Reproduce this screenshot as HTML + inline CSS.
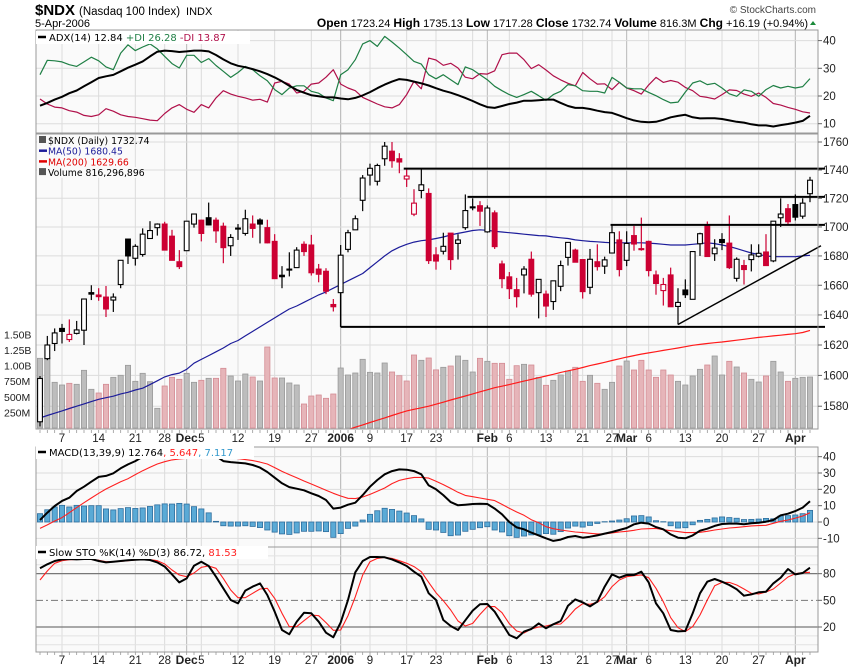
<!DOCTYPE html>
<html><head><meta charset="utf-8"><title>$NDX StockCharts</title>
<style>
html,body{margin:0;padding:0;background:#fff;}
svg{display:block;font-family:"Liberation Sans",Arial,sans-serif;}
.leg{font-family:"DejaVu Sans",Verdana,sans-serif;}
</style></head>
<body>
<svg id="chart" xmlns="http://www.w3.org/2000/svg" width="850" height="668" viewBox="0 0 850 668">
<rect width="850" height="668" fill="#fff"/>
<g>
<text x="35" y="15"><tspan font-size="15" font-weight="bold">$NDX</tspan><tspan dx="4" font-size="11.5">(Nasdaq 100 Index)</tspan><tspan dx="6" font-size="11">INDX</tspan></text>
<text x="35" y="27" font-size="11">5-Apr-2006</text>
<text x="816" y="13" font-size="10" fill="#444" text-anchor="end">© StockCharts.com</text>
<text x="808" y="27" font-size="11" text-anchor="end"><tspan font-weight="bold" font-size="12">Open</tspan> 1723.24 <tspan font-weight="bold" font-size="12">High</tspan> 1735.13 <tspan font-weight="bold" font-size="12">Low</tspan> 1717.28 <tspan font-weight="bold" font-size="12">Close</tspan> 1732.74 <tspan font-weight="bold" font-size="12">Volume</tspan> 816.3M <tspan font-weight="bold" font-size="12">Chg</tspan> +16.19 (+0.94%)</text>
<path d="M810 25 L816 25 L813 21 Z" fill="#1a8a3a"/>
</g>
<g id="panels"></g>
</svg>
<script>
// ---------- data ----------
const firstIndex = -3;
const openP = [1570,1611,1621,1631,1623.6,1627.7,1629.8,1655,1653.4,1652,1650,1660.5,1691.6,1678.4,1681,1692,1699.5,1702,1693.6,1676,1683.6,1702,1704.7,1706.4,1704.7,1700.5,1687,1698.5,1695.5,1702,1704.8,1699.5,1690,1666.8,1671,1672,1688,1687.5,1671,1669.5,1647,1655,1684.5,1698,1718.6,1736.4,1732,1748,1753.4,1748,1733.6,1708.9,1725.5,1723.4,1680.7,1683.2,1695.7,1688.6,1699.5,1714,1714.8,1696.6,1709.8,1674.5,1665.7,1657,1667,1677.7,1655,1654,1649,1659.3,1679,1684,1677.5,1658.6,1676,1673,1682,1691,1677,1694,1685,1690,1667,1656.4,1667,1645.7,1656.8,1650.5,1688.4,1701,1681.5,1691.3,1688.8,1664.7,1673.4,1677.5,1679.8,1682.7,1676.6,1706.4,1712.7,1715.6,1707.5,1723.24];
const highP = [1599.6,1626,1631,1634,1637,1636,1651,1660,1658,1659.5,1654.5,1677,1691.6,1688,1699,1704,1702.5,1703.6,1698,1684,1704,1709,1705,1717,1706.5,1703,1695,1702,1712,1708,1706,1705,1695,1673,1682.5,1686,1690,1694.5,1674.5,1671.6,1650.7,1687.5,1698,1708,1736.4,1744.5,1744.5,1760,1760,1752,1741,1726.4,1741,1727,1686,1696,1695.7,1695,1722.7,1720,1718,1715,1711.5,1676.8,1669,1665,1673,1683,1664,1656.4,1663,1676.8,1689.3,1685,1677.5,1684.8,1688,1679.5,1702,1697,1697,1700.7,1706.5,1690.5,1670,1665,1672,1658,1664,1683,1696,1703.8,1691.5,1695.7,1708,1679,1677.3,1688,1688,1695,1704,1720,1716,1722.7,1720,1735.13];
const lowP = [1567,1610,1616,1621,1622,1627,1620,1650,1649.5,1638.6,1642,1658,1674.5,1673.4,1679.5,1692,1694,1684,1677,1671,1683.6,1699.5,1690,1701,1689,1675,1680,1691,1694,1692.5,1688.6,1688.6,1664.5,1658,1666,1672,1680,1666.6,1662,1654,1642.3,1655,1682.5,1698,1711,1729,1729,1743,1741.6,1737.7,1728,1707.5,1720,1674.5,1670.6,1681,1670.5,1677.5,1698,1711.6,1700.7,1696,1684.8,1658,1650.7,1645,1654.5,1652.3,1637.7,1638.6,1643.4,1656,1673.4,1675.7,1651,1654,1670,1667.7,1682,1666,1673,1683.6,1683.6,1666,1653.6,1646.3,1645.5,1633.6,1651.4,1650.5,1680,1679.6,1676.6,1684,1671,1662.5,1660.5,1669.4,1679,1673.4,1675.7,1700,1702,1704.5,1705.7,1717.28];
const closeP = [1598,1620,1628,1629,1627,1630,1650.7,1654,1652.3,1644,1652,1677,1680,1686.6,1695,1697.5,1702,1684,1677,1672.7,1704,1709,1695.5,1701.4,1697.3,1685.7,1692.7,1699.2,1705.7,1699,1702,1689,1664.5,1665.8,1670.6,1684,1683,1668.5,1667.5,1656,1645.5,1680.5,1696,1705.7,1734.3,1741.2,1743.2,1757,1746.6,1745.7,1735.7,1716.6,1729.5,1676.8,1676.5,1686.6,1677.5,1691,1711.4,1713.4,1711,1713.2,1686.4,1664.5,1657.7,1652.3,1671,1654,1664,1646,1663,1673.4,1689.3,1675.7,1655.7,1677.7,1672.7,1677.3,1696,1670.7,1688.6,1688.2,1684.3,1670,1661.2,1660.5,1645.5,1648.4,1653.6,1683,1695.3,1679.6,1685.4,1689.2,1672,1677.7,1670.7,1680.7,1681.8,1673.4,1704,1709,1703.6,1706.8,1716.6,1732.74];
const volumeM = [1115,1125,731,688,715,699,923,619,560,699,811,843,1003,747,875,741,315,672,811,779,875,731,763,795,795,955,832,752,864,816,752,1296,800,800,720,688,384,512,528,475,544,960,848,880,1099,891,880,1040,896,837,752,1168,1083,1120,930,971,992,1152,1083,896,1115,1067,1035,1035,779,997,1019,1008,811,683,763,848,912,971,747,843,715,619,731,992,1072,928,1083,928,811,928,848,747,688,832,939,1008,1152,848,1067,976,880,779,736,832,1067,896,747,795,811,816];
const ma50 = [1572.5,1574,1575.5,1577,1578.5,1580,1581.5,1583,1584.5,1585.5,1586.5,1588,1589,1590.5,1591.7,1594,1596.5,1599,1600.5,1601.5,1604,1608,1610.5,1613,1615.5,1618,1621,1623,1626,1629,1632,1635,1638,1641,1644,1646,1648.5,1651,1653.5,1655.5,1658,1660.5,1663,1665.5,1668,1672,1676,1680,1683.5,1686,1688,1689.5,1690.5,1691,1692,1693,1694.5,1695.5,1696.5,1697.5,1698,1697.7,1697,1696.5,1696,1695.5,1695,1694.5,1694,1693.8,1693,1692.5,1692,1691,1690.5,1690,1689.7,1689.3,1689,1689,1689,1689,1689,1688.8,1688.5,1688,1687.5,1687.5,1687.5,1688,1688.5,1689,1688.5,1687.5,1686.5,1685,1683.5,1682,1681,1680,1679.5,1679.5,1679.5,1679.5,1680,1680.45];
const ma200Start = 38;
const ma200 = [1563.5,1565,1566.5,1568,1569.5,1571,1572.5,1574,1575.5,1577,1578,1579,1580,1581.3,1582.6,1584,1585.3,1586.6,1588,1589.3,1590.6,1592,1593,1594,1595.2,1596.3,1597.4,1598.5,1599.6,1600.7,1602,1603,1604,1605.2,1606.4,1607.5,1608.6,1609.8,1610.9,1612,1613,1614,1614.8,1615.6,1616.4,1617.2,1618,1618.9,1619.8,1620.4,1621,1621.5,1622,1622.6,1623.2,1623.8,1624.4,1625,1625.5,1626,1626.5,1627,1627.5,1628.3,1629.66];
const adx = [16.5,17.5,18.7,19.7,21,22,23.5,25,26.5,27.1,27.6,28.9,30.2,31.3,32.5,34.3,36,36.4,36.2,35.9,36.1,36.4,36.4,36.1,34.8,33.2,31.8,30.9,30.4,29.7,28.9,27.9,26.7,25.3,23.7,22.2,21.2,20.3,19.9,19.5,19.5,19.1,18.8,19.3,20.2,21.4,22.8,24.1,25.2,26.1,25.8,25.2,24.6,23.8,22.8,21.9,21.2,20.3,19.3,18.2,17,16,15.7,16.4,17.1,17.6,18.3,18.3,18.5,18.7,18.7,17.5,16.4,15.7,15.7,15.3,14.7,14.2,13.9,13,12,11.2,10.7,10.5,10.7,11.4,12.3,12.8,13.2,12.3,11.9,12,12,11.7,11.2,10.7,10.4,9.8,9.4,9.4,9,9.5,9.9,10.4,11,12.84];
const plusDI = [27.7,32.9,32.7,32.3,31.3,30.7,32.3,34,32.7,30.5,29.5,35.5,38.5,36.4,37.7,38.8,37,34.3,31.7,30.1,34.7,34.7,32.1,33.5,31,28.9,26.7,28.5,30.7,29.5,27.3,25.5,22.3,20.5,22.9,23.7,23.7,21.7,21,19.3,18.3,27.7,29.5,33.1,38.8,40,37.9,41.5,39.5,37.3,34.9,32.5,31.5,27.7,26.2,27.7,25.9,24.1,30.5,29.5,27.7,25.9,23.5,21.9,20.5,19.5,20.5,21.7,20.1,18.4,20.5,21.7,24.1,23.7,21.9,21.7,21.7,21.1,26.7,25,22.9,22.6,22.6,21.3,20.1,18.7,17.5,17.8,21.4,24.7,25.5,24.1,24.6,22.9,20.8,19.9,22.2,21.7,19.9,22.3,23.8,22.9,23.5,22.9,23.4,26.28];
const minusDI = [18.9,17.1,16,15.7,14.7,14.2,13,12.6,13.2,15.4,14.5,13.2,12.6,12.3,11.8,11.3,11.1,13.7,15.7,16.9,15.2,14.1,16.9,15.7,19.3,21.9,20.7,19.9,19.3,18.5,18.8,17.8,24.7,25.3,24.3,21.1,21.7,24.3,24.7,26.8,29.5,24.3,22.9,21.9,19.5,18.3,17.1,16.1,15.7,16.9,20.5,25.3,22.6,33.7,33,31.1,31.8,30.1,26.8,26.2,28.1,27.9,29.1,34.9,35.5,35.5,33.1,29.9,31.3,29.4,27.3,25.8,24.6,23.7,28.5,26.2,24.3,24.4,22.3,24.9,22.9,21.9,20.7,24,26.7,24.9,25.6,25,23.1,21.9,19.9,19.5,18.9,20.5,22.2,22,20.7,19.9,21.1,19.5,17.3,16.7,15.9,15.2,14.3,13.87];
const macd = [1.2,5.7,9.8,12.9,14.9,19,21.6,24.7,27.6,28.2,29.8,32.9,35.3,37.3,40,43,46,48,49,50,50,49,48,46,40.4,37.3,36.7,36.3,35.9,34.9,33.3,30.6,27.1,23.7,21.4,20.4,19.4,17.6,15.9,13.5,8.2,8.8,10.6,11.8,16.5,21.6,25.7,29.2,31.2,32.2,32,31.2,29.2,22.4,20,16.5,12.2,10.2,10.6,11,11.2,11,8.2,4.7,0,-3.3,-4.5,-6.5,-8.2,-10,-11.6,-10.8,-9.2,-8.6,-9.6,-9,-8.2,-7.1,-6.1,-4.9,-3.7,-1.4,-0.4,-1,-3.1,-4.5,-7.6,-9.6,-10,-8.2,-5.3,-4.1,-2.4,-1.2,-1,-1,-1.4,-0.8,-0.4,0.2,1.2,4.1,5.1,6.7,8.8,12.764];
const signal = [-3.9,-1.8,0.6,2.7,5.7,8.8,11.8,14.7,17.6,20.2,22.4,24.7,26.5,29,31.4,33.5,35.5,36.9,38,38.6,39,39.6,40,40.4,40,39.6,39.2,38.8,38.2,37.6,36.7,35.5,33.3,31,29,27.1,25.1,23.3,21.4,19.4,17.6,15.9,14.5,14.3,15.3,16.9,18.8,20.8,23.5,25.5,26.5,27.3,27.3,26.9,24.9,22.9,20.6,18.2,16.3,15.5,14.7,13.9,13.1,10.8,8.4,6.1,4.1,1.4,-0.4,-2.9,-4.1,-4.9,-5.5,-6.1,-6.5,-6.9,-7.3,-7.3,-6.7,-6.1,-5.7,-5.1,-4.3,-4.1,-3.9,-4.7,-5.3,-5.9,-6.5,-6.5,-6.3,-5.7,-4.9,-4.3,-3.7,-3.3,-2.9,-2.4,-2.2,-2,-0.8,0.4,1.2,2.4,3.7,5.647];
const stoK = [86,90.5,94.2,96,96.5,96,96.5,96.5,94.2,92.7,93.5,94.2,95,95.7,96,95.4,92.7,87.9,79.2,70.2,74.7,89,93.5,88.6,76.6,63.5,50.4,46.6,60.9,65.4,69.1,56,37.2,16.6,11.8,26,36.1,35.4,26,13.6,8.4,25.2,50.4,81.5,94.2,98.7,98.7,98.4,96,92.7,88.6,82.2,76.6,57.9,50.4,27.9,21.1,16.6,27.5,38.4,45.5,45.9,37.2,24.1,11,7.3,14.8,17.8,24.1,18.5,23,26.7,44,51.1,47.7,43.2,48.5,65.4,79.2,75.5,78.5,78.5,82.2,70.2,46.6,35.4,16.6,15.1,15.5,35.4,57.9,71,74,71,67.2,62.4,55.2,56.7,59,59.7,69.1,75.5,85.2,79.2,80.7,86.72];
const stoD = [72.9,83,91.6,94.6,95.7,96,96.5,96,95,93.5,93.5,93.9,94.6,95.4,95.7,95.7,94.6,90.9,84.1,78.5,76.6,80.7,87.1,88.6,86,74.7,61.6,53,53,57.9,62.7,63.5,52.2,35.4,20.4,20.4,27.1,33.5,32.7,24.9,16.3,16.6,32.7,54,78.5,93.5,97.2,98.4,97.2,94.6,91.6,87.9,82.2,70.2,58.6,49.6,39.1,26.7,21.1,24.1,34.2,42.9,42.9,36.1,23.7,15.5,13.3,17.8,20,21.1,23,23.4,30.9,40.2,46.2,45.5,47.7,54.1,65.4,72.9,76.6,77.7,78.5,75.5,63.5,48.5,30.5,19.2,14.8,20.4,33.5,50.4,66.5,70.2,70.2,67.2,62.7,57.9,57.1,59.4,62.7,69.5,76.2,80,81.1,81.53];
// annotation levels drawn on the chart
const levelPrices = [1741,1721,1701.4,1632];
const levelStartIdx = [46.6,55.3,74.8,38];
const trendIdx = [84,103.5];
const trendPrice = [1633.6,1687];
// axis ticks
const priceTicks = [1760,1740,1720,1700,1680,1660,1640,1620,1600,1580];
const volTicks = [1500,1250,1000,750,500,250];
const volTickLabels = ["1.50B","1.25B","1.00B","750M","500M","250M"];
const adxTicks = [40,30,20,10];
const macdTicks = [40,30,20,10,0,-10];
const stoTicks = [80,50,20];
const weekIdx = [0,5,10,14,19,24,29,34,38,42,47,51,56,61,66,71,75,80,85,90,95,100];
const monthIdx = [17,38,58,77,100];
const dateLabelIdx = [0,5,10,14,17,19,24,29,34,38,42,47,51,58,61,66,71,75,77,80,85,90,95,100];
const dateLabelText = ["7","14","21","28","Dec","5","12","19","27","2006","9","17","23","Feb","6","13","21","27","Mar","6","13","20","27","Apr"];

// ---------- scales ----------
const X0 = 36, X1 = 818;
const xOf = i => 62 + 7.3333 * i;
const yP = p => 198.3 + 2449 * Math.log(1720 / p);
const yV = v => 428 - v / 16;
const yA = v => 123.7 - (v - 10) * 2.77;
const yM = v => 522 - v * 1.633;
const yS = v => 627 - (v - 20) * 0.889;

const NS = "http://www.w3.org/2000/svg";
const root = document.getElementById('panels');
function mk(tag, attrs, parent) {
  const e = document.createElementNS(NS, tag);
  for (const k in attrs) e.setAttribute(k, attrs[k]);
  (parent || root).appendChild(e);
  return e;
}
const defs = mk('defs', {});
const panels = [
  {id:'adx', top:30, bot:133},
  {id:'price', top:134, bot:429},
  {id:'macd', top:447, bot:547},
  {id:'sto', top:547, bot:652}
];
panels.forEach(p => {
  const cp = mk('clipPath', {id:'clip-' + p.id}, defs);
  mk('rect', {x:X0, y:p.top, width:X1 - X0, height:p.bot - p.top}, cp);
});

function panelFrame(p, name) {
  const g = mk('g', {});
  
  
  mk('rect', {x:X0, y:p.top, width:X1 - X0, height:p.bot - p.top, fill:'#fafafa'}, g);
  weekIdx.forEach(i => mk('line', {x1:xOf(i), x2:xOf(i), y1:p.top, y2:p.bot, stroke:'#dcdcdc', 'stroke-width':1}, g));
  monthIdx.forEach(i => mk('line', {x1:xOf(i), x2:xOf(i), y1:p.top, y2:p.bot, stroke:'#b8b8b8', 'stroke-width':1}, g));
  return g;
}
function hgrid(g, ys, color) {
  ys.forEach(y => mk('line', {x1:X0, x2:X1, y1:y, y2:y, stroke:color || '#dcdcdc', 'stroke-width':1}, g));
}
function rightLabels(g, vals, fy, labels) {
  vals.forEach((v, k) => {
    const y = fy(v);
    mk('line', {x1:X1, x2:X1 + 4, y1:y, y2:y, stroke:'#666'}, g);
    const t = mk('text', {x:X1 + 5, y:y + 4, 'font-size':11.5, fill:'#222'}, g);
    t.textContent = labels ? labels[k] : String(v);
  });
}
function border(g, p) {
  mk('rect', {x:X0, y:p.top, width:X1 - X0, height:p.bot - p.top, fill:'none', stroke:'#999', 'stroke-width':1}, g);
}
function linePath(g, arr, start, fy, color, w, name) {
  let d = '';
  arr.forEach((v, k) => { if (v == null) return; d += (d ? 'L' : 'M') + xOf(start + k).toFixed(1) + ' ' + fy(v).toFixed(1); });
  const e = mk('path', {d:d, fill:'none', stroke:color, 'stroke-width':w, 'stroke-linejoin':'round'}, g);
  
  
  return e;
}
function legend(g, x, y, parts, w, name) {
  mk('rect', {x:x - 2, y:y - 10, width:w, height:13, fill:'#fff'}, g);
  mk('line', {x1:x, x2:x + 8, y1:y - 4, y2:y - 4, stroke:'#000', 'stroke-width':2.5}, g);
  const t = mk('text', {x:x + 11, y:y, 'font-size':10, class:'leg'}, g);
  
  
  parts.forEach(pt => { const s = mk('tspan', {fill:pt[1]}, t); s.textContent = pt[0]; });
}

// ---------- ADX panel ----------
{
  const p = panels[0];
  const g = panelFrame(p, 'adx-panel');
  hgrid(g, adxTicks.map(yA));
  const c = mk('g', {'clip-path':'url(#clip-adx)'}, g);
  linePath(c, minusDI, firstIndex, yA, '#b0104a', 1.2, 'minus-di-line');
  linePath(c, plusDI, firstIndex, yA, '#1f7f45', 1.2, 'plus-di-line');
  linePath(c, adx, firstIndex, yA, '#000', 2, 'adx-line');
  border(g, p);
  rightLabels(g, adxTicks, yA);
  legend(g, 38, 41, [['ADX(14) 12.84 ', '#000'], ['+DI 26.28 ', '#1f7f45'], ['-DI 13.87', '#b0104a']], 214, 'adx-legend');
}

// ---------- price panel ----------
{
  const p = panels[1];
  const g = panelFrame(p, 'price-panel');
  hgrid(g, priceTicks.map(yP));
  const c = mk('g', {'clip-path':'url(#clip-price)'}, g);
  volumeM.forEach((v, k) => {
    const i = firstIndex + k;
    const down = k > 0 && closeP[k] < closeP[k - 1];
    const r = mk('rect', {x:xOf(i) - 2.6, y:yV(v), width:5.2, height:428 - yV(v), fill:down ? '#e6b5b9' : '#bdbdbd', stroke:down ? '#d48d95' : '#9a9a9a', 'stroke-width':0.8}, c);
    
    
  });
  linePath(c, ma200, ma200Start, yP, '#ff1a1a', 1.2, 'ma200-line');
  linePath(c, ma50, firstIndex, yP, '#1c1c9a', 1.2, 'ma50-line');
  closeP.forEach((cl, k) => {
    const i = firstIndex + k;
    const op = openP[k];
    const col = (k > 0 && cl < closeP[k - 1]) ? '#cc0033' : '#000';
    const filled = cl < op;
    const x = xOf(i);
    const cg = mk('g', {}, c);
    
    
    mk('line', {x1:x, x2:x, y1:yP(highP[k]), y2:yP(lowP[k]), stroke:col, 'stroke-width':1.2}, cg);
    const yt = yP(Math.max(op, cl)), yb = yP(Math.min(op, cl));
    mk('rect', {x:x - 2.4, y:yt, width:4.8, height:Math.max(1, yb - yt), fill:filled ? col : '#fff', stroke:col, 'stroke-width':1.1}, cg);
  });
  const a = mk('g', {}, g);
  
  
  levelPrices.forEach((lp, k) => {
    mk('line', {x1:xOf(levelStartIdx[k]), x2:825, y1:yP(lp), y2:yP(lp), stroke:'#000', 'stroke-width':2}, a);
  });
  mk('line', {x1:xOf(levelStartIdx[3]), x2:xOf(levelStartIdx[3]), y1:yP(openP[38 - firstIndex]), y2:yP(levelPrices[3]), stroke:'#000', 'stroke-width':1.5}, a);
  mk('line', {x1:xOf(trendIdx[0]), x2:xOf(trendIdx[1]), y1:yP(trendPrice[0]), y2:yP(trendPrice[1]), stroke:'#000', 'stroke-width':1.5}, a);
  border(g, p);
  rightLabels(g, priceTicks, yP);
  volTicks.forEach((v, k) => {
    const t = mk('text', {x:4, y:yV(v) + 4, 'font-size':10.5, fill:'#222'}, g);
    t.textContent = volTickLabels[k];
    
    
  });
  const lg = mk('g', {}, g);
  
  
  const rows = [['$NDX (Daily) 1732.74', '#000'], ['MA(50) 1680.45', '#1c1c9a'], ['MA(200) 1629.66', '#e00000'], ['Volume 816,296,896', '#000']];
  rows.forEach((r, k) => {
    const y = 144 + k * 10.7;
    mk('rect', {x:37, y:y - 9, width:k == 3 ? 100 : (k == 0 ? 96 : 78), height:10.7, fill:'#fafafa'}, lg);
    if (k == 1 || k == 2) mk('line', {x1:39, x2:47, y1:y - 4, y2:y - 4, stroke:r[1], 'stroke-width':2.5}, lg);
    else mk('rect', {x:39, y:y - 8, width:7, height:7, fill:'#555'}, lg);
    const t = mk('text', {x:48, y:y, 'font-size':9.3, fill:r[1], class:'leg'}, lg);
    t.textContent = r[0];
  });
}

// ---------- date axis labels ----------
function dateAxis(y, name) {
  const g = mk('g', {});
  
  
  dateLabelIdx.forEach((i, k) => {
    const txt = dateLabelText[k];
    const bold = /[A-Za-z]/.test(txt) || txt == '2006';
    const t = mk('text', {x:xOf(i), y:y, 'font-size':bold ? 12 : 11.5, 'font-weight':bold ? 'bold' : 'normal', 'text-anchor':'middle', fill:'#222'}, g);
    t.textContent = txt;
  });
  for (let i = firstIndex; i <= 102; i++) mk('line', {x1:xOf(i), x2:xOf(i), y1:y - 12, y2:y - 9, stroke:'#999', 'stroke-width':0.8}, g);
}
dateAxis(442, 'date-axis-middle');

// ---------- MACD panel ----------
{
  const p = panels[2];
  const g = panelFrame(p, 'macd-panel');
  hgrid(g, macdTicks.map(yM));
  const c = mk('g', {'clip-path':'url(#clip-macd)'}, g);
  macd.forEach((m, k) => {
    const h = m - signal[k];
    const y0 = yM(0), y1 = yM(h);
    const r = mk('rect', {x:xOf(firstIndex + k) - 2.6, y:Math.min(y0, y1), width:5.2, height:Math.abs(y1 - y0), fill:'#5aaad6', stroke:'#2e6e9e', 'stroke-width':0.8}, c);
    
    
  });
  linePath(c, signal, firstIndex, yM, '#ff2020', 1.1, 'macd-signal-line');
  linePath(c, macd, firstIndex, yM, '#000', 2, 'macd-line');
  border(g, p);
  rightLabels(g, macdTicks, yM);
  legend(g, 38, 456, [['MACD(13,39,9) 12.764', '#000'], [', 5.647', '#ff2020'], [', 7.117', '#3399cc']], 218, 'macd-legend');
}

// ---------- Slow STO panel ----------
{
  const p = panels[3];
  const g = panelFrame(p, 'sto-panel');
  hgrid(g, [0, 10, 90, 100].map(yS), '#e2e2e2');
  mk('line', {x1:X0, x2:X1, y1:yS(80), y2:yS(80), stroke:'#777', 'stroke-width':1.2}, g);
  mk('line', {x1:X0, x2:X1, y1:yS(20), y2:yS(20), stroke:'#777', 'stroke-width':1.2}, g);
  mk('line', {x1:X0, x2:X1, y1:yS(50), y2:yS(50), stroke:'#777', 'stroke-width':1, 'stroke-dasharray':'7,3,2,3'}, g);
  const c = mk('g', {'clip-path':'url(#clip-sto)'}, g);
  linePath(c, stoD, firstIndex, yS, '#ff2020', 1.1, 'sto-d-line');
  linePath(c, stoK, firstIndex, yS, '#000', 2, 'sto-k-line');
  border(g, p);
  rightLabels(g, stoTicks, yS);
  legend(g, 38, 556, [['Slow STO %K(14) %D(3) 86.72, ', '#000'], ['81.53', '#ff2020']], 232, 'sto-legend');
}
dateAxis(664, 'date-axis-bottom');
</script>
</body></html>
